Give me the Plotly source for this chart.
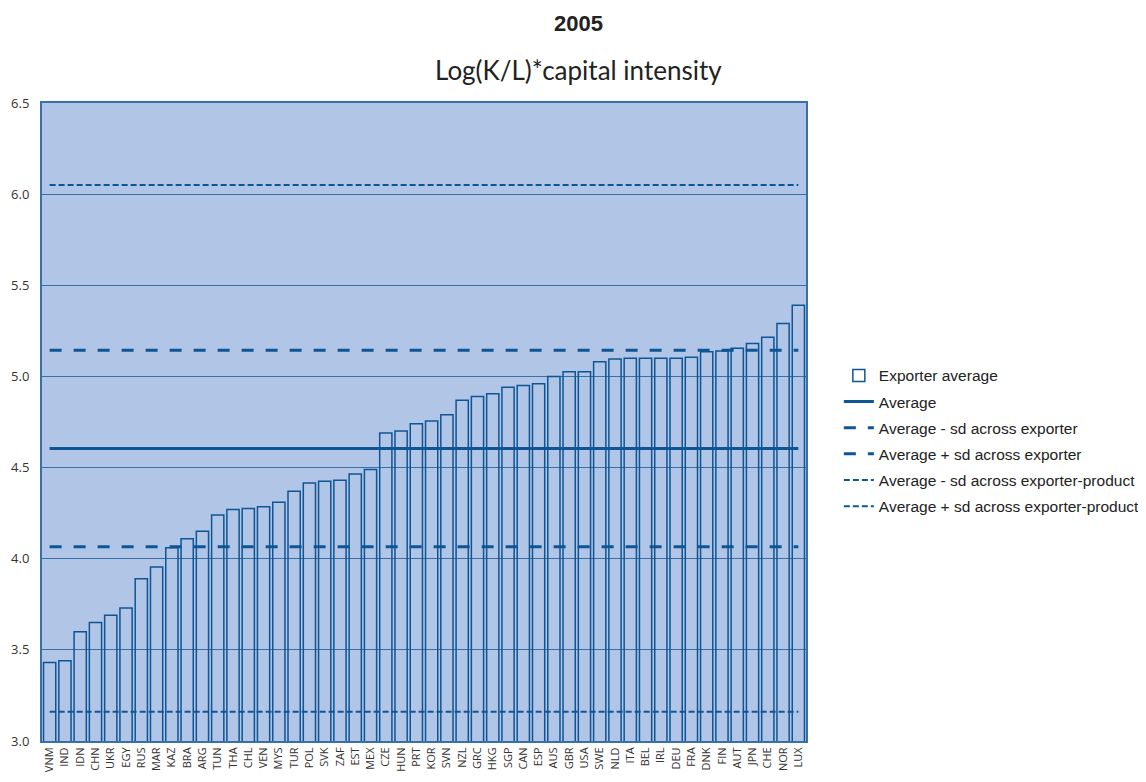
import plotly.graph_objects as go

countries = ["VNM","IND","IDN","CHN","UKR","EGY","RUS","MAR","KAZ","BRA","ARG","TUN","THA","CHL","VEN",
             "MYS","TUR","POL","SVK","ZAF","EST","MEX","CZE","HUN","PRT","KOR","SVN","NZL","GRC","HKG",
             "SGP","CAN","ESP","AUS","GBR","USA","SWE","NLD","ITA","BEL","IRL","DEU","FRA","DNK","FIN",
             "AUT","JPN","CHE","NOR","LUX"]
exporter_avg = [3.43,3.44,3.60,3.65,3.69,3.73,3.89,3.955,4.06,4.11,4.15,4.24,4.27,4.275,4.285,
                4.31,4.37,4.415,4.425,4.43,4.465,4.49,4.69,4.70,4.74,4.755,4.79,4.87,4.89,4.905,
                4.94,4.95,4.96,5.00,5.025,5.025,5.08,5.095,5.10,5.10,5.10,5.10,5.105,5.135,5.14,
                5.155,5.18,5.215,5.29,5.39]
average = 4.604
minus_sd_exporter = 4.066
plus_sd_exporter = 5.143
minus_sd_prod = 3.16
plus_sd_prod = 6.05

BG = "#b1c5e6"
DARK = "#0e5596"
GRID = "#3b6fa8"

fig = go.Figure()
fig.add_trace(go.Bar(x=countries, y=exporter_avg, name="Exporter average",
                     marker=dict(color="rgba(177,197,230,0)", line=dict(color=DARK, width=1.5)),
                     legendgroup="a"))
lines = [
    ("Average", average, "solid", 3),
    ("Average - sd across exporter", minus_sd_exporter, "12px,12px", 3),
    ("Average + sd across exporter", plus_sd_exporter, "12px,12px", 3),
    ("Average - sd across exporter-product", minus_sd_prod, "6px,3px", 2),
    ("Average + sd across exporter-product", plus_sd_prod, "6px,3px", 2),
]
for i, (nm, val, dash, w) in enumerate(lines):
    fig.add_trace(go.Scatter(x=countries, y=[val]*len(countries), mode="lines", name=nm,
                             line=dict(color=DARK, width=w, dash=dash), legendgroup=f"g{i}"))

fig.update_layout(
    width=1138, height=774,
    margin=dict(l=34, r=340, t=95, b=41, autoexpand=False),
    paper_bgcolor="white", plot_bgcolor=BG,
    bargap=0.2,
    showlegend=True,
    legend=dict(x=1.043, y=0.599, xanchor="left", yanchor="top",
                font=dict(family="Liberation Sans, Arial", size=15.5, color="#222"),
                tracegroupgap=3, bgcolor="rgba(0,0,0,0)"),
    font=dict(family="Open Sans", color="#333"),
    annotations=[
        dict(text="<b>2005</b>", x=0.702, y=1.125, xref="paper", yref="paper", showarrow=False,
             xanchor="center", yanchor="middle",
             font=dict(family="Liberation Sans, Arial", size=22, color="#222")),
        dict(text="Log(K/L)*capital intensity", x=0.702, y=1.051, xref="paper", yref="paper",
             xanchor="center", yanchor="middle",
             showarrow=False, font=dict(family="Lato", size=26, color="#222")),
    ],
)
fig.update_yaxes(range=[3.0, 6.5], dtick=0.5, tickformat=".1f", showgrid=True, gridcolor=GRID,
                 gridwidth=1, showline=True, linecolor="#3a70aa", linewidth=2, mirror=True,
                 ticks="", zeroline=False, automargin=False, ticklabelstandoff=8,
                 tickfont=dict(family="Open Sans", size=13, color="#333"))
fig.update_xaxes(tickangle=-90, showline=True, linecolor="#3a70aa", linewidth=2, mirror=True,
                 automargin=False, tickfont=dict(family="Open Sans", size=11, color="#333"), ticks="")

fig.write_html("out.html")
